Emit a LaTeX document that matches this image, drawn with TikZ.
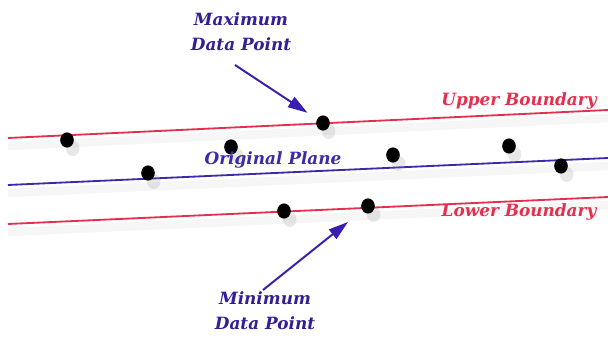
\documentclass[tikz,border=0pt]{standalone}
\usepackage{fontspec}
\usepackage{xcolor}
\usepackage{tikz}
\usetikzlibrary{shapes.geometric, arrows.meta, shadows}
\newfontfamily\lblfont{DejaVu Serif}
\definecolor{bndred}{RGB}{228,48,78}
\definecolor{planeblue}{RGB}{62,42,168}
\definecolor{lblblue}{RGB}{52,30,150}
\definecolor{arrblue}{RGB}{58,30,178}

\begin{document}
\begin{tikzpicture}[
    x=0.025cm, y=-0.025cm,
    pt/.style={ellipse, fill=black, inner sep=0pt,
               minimum width=0.34cm, minimum height=0.38cm,
               drop shadow={shadow xshift=4pt, shadow yshift=-6pt, opacity=.18, fill=gray}},
    bound/.style={bndred, line width=1.3pt},
    plane/.style={planeblue, line width=1.3pt},
    shade/.style={gray, opacity=.07, line width=6pt},
    lbl/.style={font=\lblfont\fontsize{12}{18}\selectfont\bfseries\itshape, align=center, inner sep=1pt},
    arr/.style={-{Triangle[length=14pt, width=8.5pt]}, arrblue, line width=1.4pt}
  ]
    \useasboundingbox (0,0) rectangle (608,347);
    % soft shadows under the lines
    \draw[shade] (8,146) -- (608,118);
    \draw[shade] (8,193) -- (608,166);
    \draw[shade] (8,232) -- (608,205);
    % boundaries and plane
    \draw[bound] (8,138) -- (608,110);
    \draw[plane] (8,185) -- (608,158);
    \draw[bound] (8,224) -- (608,197);

    % data points
    \node[pt] (p1) at (67,140) {};
    \node[pt] (p2) at (148,173) {};
    \node[pt] (p3) at (231,147) {};
    \node[pt] (pmax) at (323,123) {};
    \node[pt] (p5) at (393,155) {};
    \node[pt] (p6) at (509,146) {};
    \node[pt] (p7) at (561,166) {};
    \node[pt] (p8) at (284,211) {};
    \node[pt] (pmin) at (368,206) {};

    % labels
    \node[lbl, text=bndred]  (upper) at (519,101) {Upper Boundary};
    \node[lbl, text=planeblue] (plane) at (273,160) {Original Plane};
    \node[lbl, text=bndred]  (lower) at (519,212) {Lower Boundary};
    \node[lbl, text=lblblue] (maxlbl) at (241,32) {Maximum\\Data Point};
    \node[lbl, text=lblblue] (minlbl) at (265,311) {Minimum\\Data Point};

    \coordinate (maxtail) at (235,65);
    \coordinate (mintail) at (263,290);
    \draw[arr, shorten >=8pt] (maxtail) -- (pmax);
    \draw[arr, shorten >=13pt] (mintail) -- (pmin);
  \end{tikzpicture}
\end{document}
